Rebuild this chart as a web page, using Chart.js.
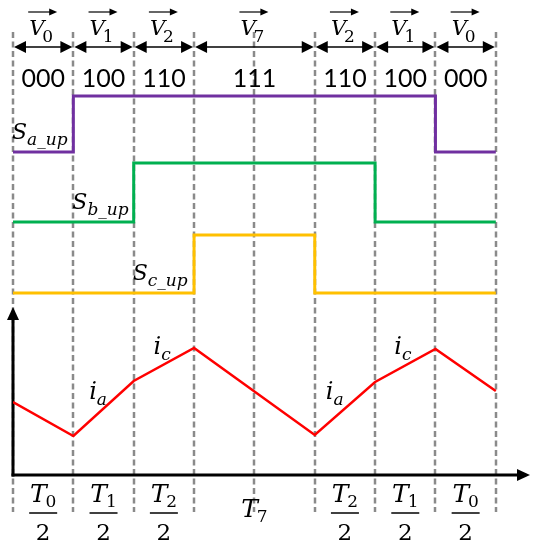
<!DOCTYPE html>
<html><head><meta charset="utf-8">
<script src="https://cdn.jsdelivr.net/npm/chart.js@4.4.0/dist/chart.umd.min.js"></script>
<style>html,body{margin:0;padding:0;background:#fff;}canvas{display:block;}</style>
</head><body>
<canvas id="c" width="539" height="550"></canvas>
<script>
// ---------- data ----------
const boundaries = [0, 1, 2, 3, 5, 6, 7, 8];        // switching instants (units of T0/2)
const gridTimes = [0, 1, 2, 3, 4, 5, 6, 7, 8];      // dashed reference lines
const vectorSubs = ['0', '1', '2', '7', '2', '1', '0'];
const stateCodes = ['000', '100', '110', '111', '110', '100', '000'];
const Sa = [0, 1, 1, 1, 1, 1, 0];
const Sb = [0, 0, 1, 1, 1, 0, 0];
const Sc = [0, 0, 0, 1, 0, 0, 0];
const current = [0.73, 0.39, 0.94, 1.27, 0.40, 0.93, 1.26, 0.84];
const durSubs = ['0', '1', '2', '7', '2', '1', '0'];
const durHalf = [true, true, true, false, true, true, true];
const curLabelSubs = ['a', 'c', 'a', 'c'];
const curLabelT = [1.41, 2.47, 5.33, 6.46];
const curLabelI = [0.76, 1.21, 0.76, 1.21];

// ---------- layout ----------
const AREA = {left: 13, right: 529, top: 32, bottom: 512};
function band(p0, p1) {
  const k = p0 - p1, H = AREA.bottom - AREA.top;
  const min = -(AREA.bottom - p0) / k;
  return {type: 'linear', display: false, min: min, max: min + H / k};
}
function stepData(S) {
  return boundaries.map((t, i) => ({x: t, y: S[Math.min(i, S.length - 1)]}));
}
const SERIF = '"DejaVu Serif", "Liberation Serif", serif';

// main symbol (italic) + subscript; digits upright, letters italic
function symSub(ctx, main, sub, x, y, align, mainSize, subSize, drop, gap) {
  ctx.font = 'italic ' + mainSize + 'px ' + SERIF;
  const w1 = ctx.measureText(main).width;
  const subFont = (/^[0-9]+$/.test(sub) ? '' : 'italic ') + subSize + 'px ' + SERIF;
  ctx.font = subFont;
  const w2 = ctx.measureText(sub).width;
  const tot = w1 + gap + w2;
  const x0 = align === 'center' ? x - tot / 2 : x;
  ctx.textAlign = 'left';
  ctx.textBaseline = 'alphabetic';
  ctx.font = 'italic ' + mainSize + 'px ' + SERIF;
  ctx.fillText(main, x0, y);
  ctx.font = subFont;
  ctx.fillText(sub, x0 + w1 + gap, y + drop);
  return {x0: x0, x1: x0 + tot};
}
function tri(ctx, tipX, tipY, dir, len, half) {
  ctx.beginPath();
  if (dir === 'r') { ctx.moveTo(tipX, tipY); ctx.lineTo(tipX - len, tipY - half); ctx.lineTo(tipX - len, tipY + half); }
  if (dir === 'l') { ctx.moveTo(tipX, tipY); ctx.lineTo(tipX + len, tipY - half); ctx.lineTo(tipX + len, tipY + half); }
  if (dir === 'u') { ctx.moveTo(tipX, tipY); ctx.lineTo(tipX - half, tipY + len); ctx.lineTo(tipX + half, tipY + len); }
  ctx.closePath(); ctx.fill();
}

const decor = {
  id: 'decor',
  beforeDatasetsDraw(chart) {
    const ctx = chart.ctx, x = chart.scales.x, yi = chart.scales.yi;
    ctx.save();
    ctx.strokeStyle = '#8a8a8a'; ctx.lineWidth = 2.5; ctx.setLineDash([6, 3.5]);
    gridTimes.forEach(t => {
      const px = Math.round(x.getPixelForValue(t));
      ctx.beginPath(); ctx.moveTo(px, AREA.top); ctx.lineTo(px, AREA.bottom); ctx.stroke();
    });
    ctx.setLineDash([]);
    // current axes
    const ox = x.getPixelForValue(0), oy = yi.getPixelForValue(0);
    ctx.strokeStyle = '#000'; ctx.fillStyle = '#000'; ctx.lineWidth = 3;
    ctx.beginPath(); ctx.moveTo(ox, oy + 1.5); ctx.lineTo(ox, 318); ctx.stroke();
    tri(ctx, ox, 307, 'u', 13, 6);
    ctx.beginPath(); ctx.moveTo(ox - 1.5, oy); ctx.lineTo(518, oy); ctx.stroke();
    tri(ctx, 530, oy, 'r', 13, 6);
    ctx.restore();
  },
  afterDatasetsDraw(chart) {
    const ctx = chart.ctx, x = chart.scales.x, yi = chart.scales.yi;
    ctx.save();
    ctx.fillStyle = '#000'; ctx.strokeStyle = '#000';
    for (let i = 0; i < boundaries.length - 1; i++) {
      const a = x.getPixelForValue(boundaries[i]) + 1, b = x.getPixelForValue(boundaries[i + 1]) - 1;
      const c = (a + b) / 2;
      // double arrow
      ctx.lineWidth = 1.5;
      ctx.beginPath(); ctx.moveTo(a + 8, 47); ctx.lineTo(b - 8, 47); ctx.stroke();
      tri(ctx, a, 47, 'l', 12, 6); tri(ctx, b, 47, 'r', 12, 6);
      // vector label
      const r = symSub(ctx, 'V', vectorSubs[i], c - 2, 35, 'center', 21, 17, 7, -2);
      ctx.lineWidth = 1.2;
      ctx.beginPath(); ctx.moveTo(r.x0 - 1, 12); ctx.lineTo(r.x1 + 1, 12); ctx.stroke();
      ctx.beginPath(); ctx.moveTo(r.x1 + 4, 12); ctx.lineTo(r.x1 - 4, 8.5); ctx.lineTo(r.x1 - 4, 15.5); ctx.closePath(); ctx.fill();
      // state code
      ctx.font = '25px Lato, "Open Sans", sans-serif';
      ctx.textAlign = 'center'; ctx.textBaseline = 'middle';
      ctx.fillText(stateCodes[i], c, 79);
      // duration labels
      if (durHalf[i]) {
        symSub(ctx, 'T', durSubs[i], c, 502, 'center', 25, 17, 5, -1);
        ctx.lineWidth = 1.5;
        ctx.beginPath(); ctx.moveTo(c - 14, 513); ctx.lineTo(c + 14, 513); ctx.stroke();
        ctx.font = '23px ' + SERIF; ctx.textAlign = 'center'; ctx.textBaseline = 'alphabetic';
        ctx.fillText('2', c, 540);
      } else {
        symSub(ctx, 'T', durSubs[i], c, 517, 'center', 25, 17, 5, -1);
      }
    }
    // switching labels
    const names = [['ya', 'a', 0], ['yb', 'b', 1], ['yc', 'c', 2]];
    names.forEach(n => {
      const sc = chart.scales[n[0]];
      symSub(ctx, 'S', n[1] + '_up', x.getPixelForValue(boundaries[n[2]]) - 1, sc.getPixelForValue(0) - 13, 'left', 22, 17, 6, 0);
    });
    // current labels
    curLabelSubs.forEach((s, k) => {
      symSub(ctx, 'i', s, x.getPixelForValue(curLabelT[k]), yi.getPixelForValue(curLabelI[k]), 'center', 24, 17, 6, 0);
    });
    ctx.restore();
  }
};

new Chart(document.getElementById('c'), {
  type: 'line',
  data: {
    datasets: [
      {data: stepData(Sa), yAxisID: 'ya', borderColor: '#7030A0', borderWidth: 3, stepped: 'before'},
      {data: stepData(Sb), yAxisID: 'yb', borderColor: '#00B050', borderWidth: 3, stepped: 'before'},
      {data: stepData(Sc), yAxisID: 'yc', borderColor: '#FFC000', borderWidth: 3, stepped: 'before'},
      {data: boundaries.map((t, i) => ({x: t, y: current[i]})), yAxisID: 'yi', borderColor: '#FF0000', borderWidth: 2.5, tension: 0}
    ]
  },
  options: {
    responsive: false, animation: false, devicePixelRatio: 1,
    layout: {padding: {left: AREA.left, right: 539 - AREA.right, top: AREA.top, bottom: 550 - AREA.bottom}},
    elements: {point: {radius: 0}, line: {fill: false, borderJoinStyle: 'miter'}},
    plugins: {legend: {display: false}, tooltip: {enabled: false}},
    scales: {
      x: {type: 'linear', display: false, min: 0, max: 8.55},
      ya: band(152, 96),
      yb: band(222, 163),
      yc: band(293, 235),
      yi: band(475, 375)
    }
  },
  plugins: [decor]
});
</script>
</body></html>
